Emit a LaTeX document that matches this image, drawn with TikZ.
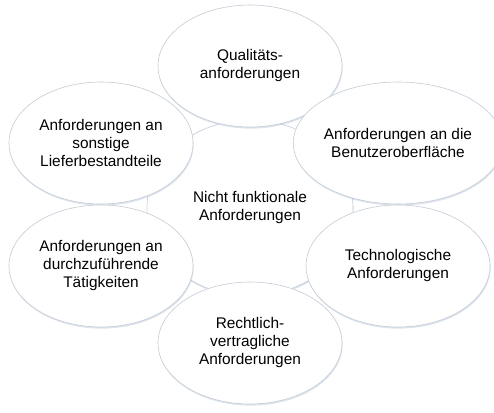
\documentclass[tikz,border=0pt]{standalone}
\usepackage{fontspec}
\setmainfont{Liberation Sans}
\usetikzlibrary{shapes.geometric,shadows}
\definecolor{edgec}{HTML}{C4CCD6}
\definecolor{shadc}{HTML}{9FB4CC}
\tikzset{
  bubble/.style={ellipse, draw=edgec, line width=0.6pt, fill=white, inner sep=0pt,
    minimum width=184pt, minimum height=122pt, align=center,
    font=\fontsize{15.4pt}{18pt}\selectfont, text=black,
    drop shadow={shadow xshift=0.6pt, shadow yshift=-1.6pt, opacity=0.35, fill=shadc}},
  hub/.style={bubble, minimum width=206pt, minimum height=176pt}
}
\begin{document}
\begin{tikzpicture}[x=1pt,y=-1pt]
\useasboundingbox (0,0) rectangle (494,412);
\fill[white] (0,0) rectangle (494,412);
\node[hub] (c) at (250,208) {Nicht funktionale\\Anforderungen};
\node[bubble] (t) at (250,66) {Qualitäts-\\anforderungen};
\node[bubble] (ul) at (101,143) {Anforderungen an\\sonstige\\Lieferbestandteile};
\node[bubble] (ur) at (398,143) {Anforderungen an die\\Benutzeroberfläche};
\node[bubble] (ll) at (101,266) {Anforderungen an\\durchzuführende\\Tätigkeiten};
\node[bubble] (lr) at (398,266) {Technologische\\Anforderungen};
\node[bubble] (b) at (250,343) {Rechtlich-\\vertragliche\\Anforderungen};
\end{tikzpicture}
\end{document}
